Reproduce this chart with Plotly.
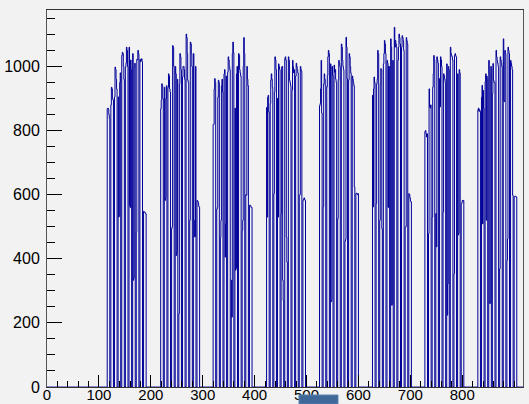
import plotly.graph_objects as go

# Histogram: daily counts, weekdays only (weekends empty), 8 blocks
n_bins = 917
block_starts = [116, 219, 320, 423, 525, 627, 728, 830]

# weekday values (Mon..Fri) per week for each block
block1 = [[868, 870, 866, 850, 838], [880, 935, 930, 900, 895], [905, 998, 990, 960, 930],
          [905, 530, 535, 950, 980], [1034, 1044, 1040, 1000, 960], [998, 1010, 1060, 1050, 1000],
          [1060, 567, 560, 1020, 990], [1040, 333, 340, 1000, 1010], [483, 1022, 1020, 1050, 1040],
          [1022, 1015, 1020, 1024, 1015], [548, 545, 545, 543, 540]]
block2 = [[868, 894, 946, 940, 900], [935, 582, 590, 900, 940], [935, 977, 970, 930, 920],
          [494, 500, 1065, 1060, 1000], [1000, 977, 410, 420, 960], [229, 946, 1040, 1030, 990],
          [967, 1000, 1000, 990, 960], [1101, 1090, 1040, 957, 950], [520, 1076, 1070, 1040, 1000],
          [1040, 520, 468, 470, 1000], [582, 580, 575, 565, 561]]
block3 = [[819, 819, 930, 962, 950], [555, 560, 904, 957, 950], [467, 520, 940, 960, 920],
          [977, 990, 405, 509, 970], [982, 1030, 1020, 1000, 990], [333, 218, 1040, 1076, 1043],
          [870, 364, 370, 977, 1000], [1040, 1035, 990, 980, 970], [488, 520, 1000, 1090, 1040],
          [600, 598, 1000, 960, 940], [567, 567, 565, 560, 560]]
block4 = [[872, 530, 904, 910, 858], [884, 957, 977, 960, 935], [603, 920, 1030, 1020, 990],
          [900, 530, 1008, 1000, 990], [540, 998, 1000, 333, 270], [1024, 1030, 1020, 468, 390],
          [1030, 1019, 957, 950, 940], [926, 1019, 1000, 980, 990], [970, 1010, 1000, 990, 980],
          [598, 600, 1000, 990, 985], [582, 585, 590, 585, 582]]
block5 = [[877, 884, 930, 1019, 855], [562, 946, 977, 960, 940], [936, 972, 1030, 1050, 1040],
          [1008, 266, 270, 1000, 972], [1004, 982, 990, 960, 950], [525, 957, 1019, 1010, 1000],
          [1070, 1060, 1019, 1000, 990], [455, 460, 1091, 1060, 962], [957, 1040, 1030, 1000, 980],
          [970, 960, 950, 940, 624], [603, 605, 603, 600, 603]]
block6 = [[910, 562, 930, 967, 950], [572, 946, 960, 1050, 1040], [520, 946, 993, 990, 494],
          [1008, 1040, 1081, 1070, 1040], [1019, 1010, 560, 1000, 1000], [1086, 1060, 255, 260, 1019],
          [1122, 1060, 1081, 1070, 1060], [1019, 1060, 1101, 1090, 1070], [1060, 1096, 1090, 1080, 1050],
          [499, 500, 1090, 1080, 1070], [603, 600, 590, 580, 577]]
block7 = [[797, 800, 790, 780, 790], [479, 930, 874, 870, 880], [530, 935, 977, 1034, 1020],
          [541, 437, 1030, 1020, 1010], [962, 874, 1030, 1020, 1000], [546, 977, 970, 960, 950],
          [1008, 224, 322, 1000, 990], [1060, 1040, 1034, 1030, 1020], [353, 1034, 1040, 1034, 1030],
          [977, 474, 480, 990, 980], [572, 575, 582, 580, 582]]
block8 = [[865, 870, 860, 865, 860], [904, 941, 509, 925, 870], [952, 977, 520, 970, 960],
          [1019, 980, 260, 270, 1000], [915, 1009, 957, 950, 950], [1050, 1030, 1019, 1010, 1000],
          [369, 1030, 1020, 1010, 1000], [1086, 894, 890, 1050, 1040], [395, 462, 1060, 1050, 1040],
          [1019, 1010, 1000, 990, 598], [593, 595, 595, 593, 593]]
blocks = [block1, block2, block3, block4, block5, block6, block7, block8]

x_tick_vals = [0, 100, 200, 300, 400, 500, 600, 700, 800]
x_tick_text = ["0", "100", "200", "300", "400", "500", "600", "700", "800"]
y_tick_vals = [0, 200, 400, 600, 800, 1000]
y_tick_text = ["0", "200", "400", "600", "800", "1000"]

# assemble bin contents
counts = [0] * n_bins
for start, weeks in zip(block_starts, blocks):
    d = start
    for wk in weeks:
        for v in wk:
            if d < n_bins:
                counts[d] = v
            d += 1
        d += 2  # weekend bins stay empty

edges = list(range(n_bins + 1))
ys = counts + [counts[-1]]

fig = go.Figure()
fig.add_trace(go.Scatter(x=edges, y=ys, mode="lines", line=dict(color="#000099", width=1, shape="hv"),
                         hoverinfo="skip", showlegend=False))

bg = "#f2f2f2"
fig.update_layout(
    width=529, height=404,
    margin=dict(l=47, r=6, t=10, b=17, autoexpand=False),
    paper_bgcolor=bg, plot_bgcolor=bg,
    font=dict(family="Liberation Sans, Arial, sans-serif", size=16, color="#000000"),
    showlegend=False,
)
fig.update_xaxes(range=[0, n_bins], tickmode="array", tickvals=x_tick_vals, ticktext=x_tick_text,
                 tickfont=dict(size=15),
                 ticks="inside", ticklen=12, tickwidth=1, tickcolor="#000000", automargin=False,
                 showgrid=False, zeroline=False, showline=True, linecolor="#333333", linewidth=1,
                 mirror=True, ticklabelstandoff=-6,
                 minor=dict(dtick=20, tick0=0, ticks="inside", ticklen=6, tickcolor="#000000", showgrid=False))
fig.update_yaxes(range=[0, 1176], tickmode="array", tickvals=y_tick_vals, ticktext=y_tick_text,
                 ticks="inside", ticklen=15, tickwidth=1, tickcolor="#000000", automargin=False,
                 showgrid=False, zeroline=False, showline=True, linecolor="#555555", linewidth=1,
                 mirror=True, ticklabelstandoff=3,
                 minor=dict(dtick=50, tick0=0, ticks="inside", ticklen=8, tickcolor="#000000", showgrid=False))

# status-bar widget visible at the bottom edge of the original screenshot
fig.add_shape(type="rect", xref="paper", yref="paper",
              x0=(299 - 47) / 476, x1=(338 - 47) / 476, y0=(387 - 404) / 377, y1=(387 - 395) / 377,
              fillcolor="#3f6899", line=dict(color="#5a82b0", width=1), layer="above")

fig.write_html("out.html", config={"displayModeBar": False})
